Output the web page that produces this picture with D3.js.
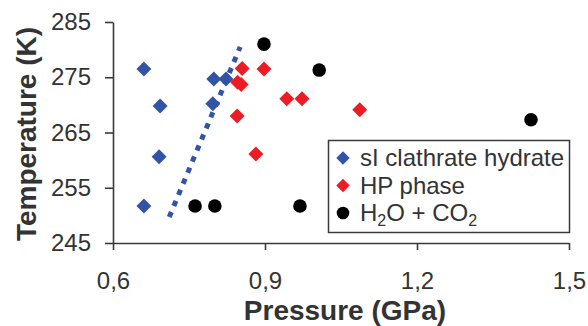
<!DOCTYPE html>
<html>
<head>
<meta charset="utf-8">
<script src="https://cdn.jsdelivr.net/npm/d3@7"></script>
<style>
  body { margin: 0; background: #fff; }
  svg { display: block; font-family: "Liberation Sans", Arial, sans-serif; }
</style>
</head>
<body>
<div id="chart"></div>
<script>
// sI clathrate hydrate
const sIPressure = [0.661, 0.693, 0.691, 0.661, 0.799, 0.823, 0.797];
const sITemp = [276.5, 269.8, 260.6, 251.7, 274.7, 274.7, 270.2];

// HP phase
const hpPressure = [0.855, 0.846, 0.853, 0.845, 0.898, 0.882, 0.943, 0.973, 1.087];
const hpTemp = [276.6, 274.1, 273.7, 268.0, 276.5, 261.1, 271.1, 271.1, 269.1];

// H2O + CO2
const mixPressure = [0.898, 1.007, 1.425, 0.762, 0.801, 0.969];
const mixTemp = [281.0, 276.3, 267.3, 251.7, 251.7, 251.7];

// dotted boundary
const linePressure = [0.711, 0.851];
const lineTemp = [249.7, 280.5];

const xTicks = [0.6, 0.9, 1.2, 1.5];
const yTicks = [245, 255, 265, 275, 285];

const blue = "#3354a6";
const red = "#ed1c24";
const textColor = "#333";

const svg = d3.select("#chart")
    .append("svg")
    .attr("width", 588)
    .attr("height", 326);

const x = d3.scaleLinear().domain([0.6, 1.5]).range([113, 569]);
const y = d3.scaleLinear().domain([245, 285]).range([243, 22]);

const fmt = d => d.toFixed(1).replace(".", ",");

const xAxis = svg.append("g")
    .attr("transform", `translate(0, ${y(245)})`)
    .call(d3.axisBottom(x).tickValues(xTicks).tickFormat(fmt).tickSize(7).tickSizeOuter(0).tickPadding(22));

const yAxis = svg.append("g")
    .attr("transform", `translate(${x(0.6)}, 0)`)
    .call(d3.axisLeft(y).tickValues(yTicks).tickSize(8).tickSizeOuter(0).tickPadding(14));

[xAxis, yAxis].forEach(g => {
    g.selectAll("path, line").attr("stroke", "#3a3a3a").attr("stroke-width", 1.6);
    g.selectAll("text")
        .style("font-size", "24px")
        .style("font-family", "Liberation Sans, Arial, sans-serif")
        .attr("fill", textColor);
});

// axis titles
svg.append("text")
    .attr("x", 345)
    .attr("y", 320)
    .attr("text-anchor", "middle")
    .style("font-size", "28px")
    .style("font-weight", "bold")
    .attr("fill", textColor)
    .text("Pressure (GPa)");

svg.append("text")
    .attr("transform", "translate(36, 134) rotate(-90)")
    .attr("text-anchor", "middle")
    .style("font-size", "28px")
    .style("font-weight", "bold")
    .attr("fill", textColor)
    .text("Temperature (K)");

const diamond = d3.symbol().type(d3.symbolSquare);

function drawDiamonds(ps, ts, color, size) {
    svg.append("g")
        .selectAll("path")
        .data(ps.map((p, i) => [p, ts[i]]))
        .enter()
        .append("path")
        .attr("d", diamond.size(size)())
        .attr("transform", d => `translate(${x(d[0])}, ${y(d[1])}) rotate(45)`)
        .attr("fill", color);
}

drawDiamonds(sIPressure, sITemp, blue, 112);
drawDiamonds(hpPressure, hpTemp, red, 112);

svg.append("g")
    .selectAll("circle")
    .data(mixPressure.map((p, i) => [p, mixTemp[i]]))
    .enter()
    .append("circle")
    .attr("cx", d => x(d[0]))
    .attr("cy", d => y(d[1]))
    .attr("r", 6.8)
    .attr("fill", "#000");

svg.append("path")
    .datum(linePressure.map((p, i) => [p, lineTemp[i]]))
    .attr("d", d3.line().x(d => x(d[0])).y(d => y(d[1])))
    .attr("fill", "none")
    .attr("stroke", blue)
    .attr("stroke-width", 5)
    .attr("stroke-dasharray", "5.5,6.5");

// legend
const legend = svg.append("g");

legend.append("rect")
    .attr("x", 328.5)
    .attr("y", 140.5)
    .attr("width", 241)
    .attr("height", 92)
    .attr("fill", "#fff")
    .attr("stroke", "#3a3a3a")
    .attr("stroke-width", 1.5);

const legendRows = [166, 193.5, 221];

legend.append("path")
    .attr("d", diamond.size(90)())
    .attr("transform", `translate(343, ${legendRows[0] - 8}) rotate(45)`)
    .attr("fill", blue);

legend.append("path")
    .attr("d", diamond.size(90)())
    .attr("transform", `translate(343, ${legendRows[1] - 8}) rotate(45)`)
    .attr("fill", red);

legend.append("circle")
    .attr("cx", 343)
    .attr("cy", legendRows[2] - 8)
    .attr("r", 6.3)
    .attr("fill", "#000");

const legendText = (row) => legend.append("text")
    .attr("x", 360)
    .attr("y", row)
    .style("font-size", "24px")
    .attr("fill", textColor);

legendText(legendRows[0]).text("sI clathrate hydrate");
legendText(legendRows[1]).text("HP phase");

const mixLabel = legendText(legendRows[2]);
mixLabel.append("tspan").text("H");
mixLabel.append("tspan").attr("dy", 5).style("font-size", "16px").text("2");
mixLabel.append("tspan").attr("dy", -5).text("O + CO");
mixLabel.append("tspan").attr("dy", 5).style("font-size", "16px").text("2");
</script>
</body>
</html>
